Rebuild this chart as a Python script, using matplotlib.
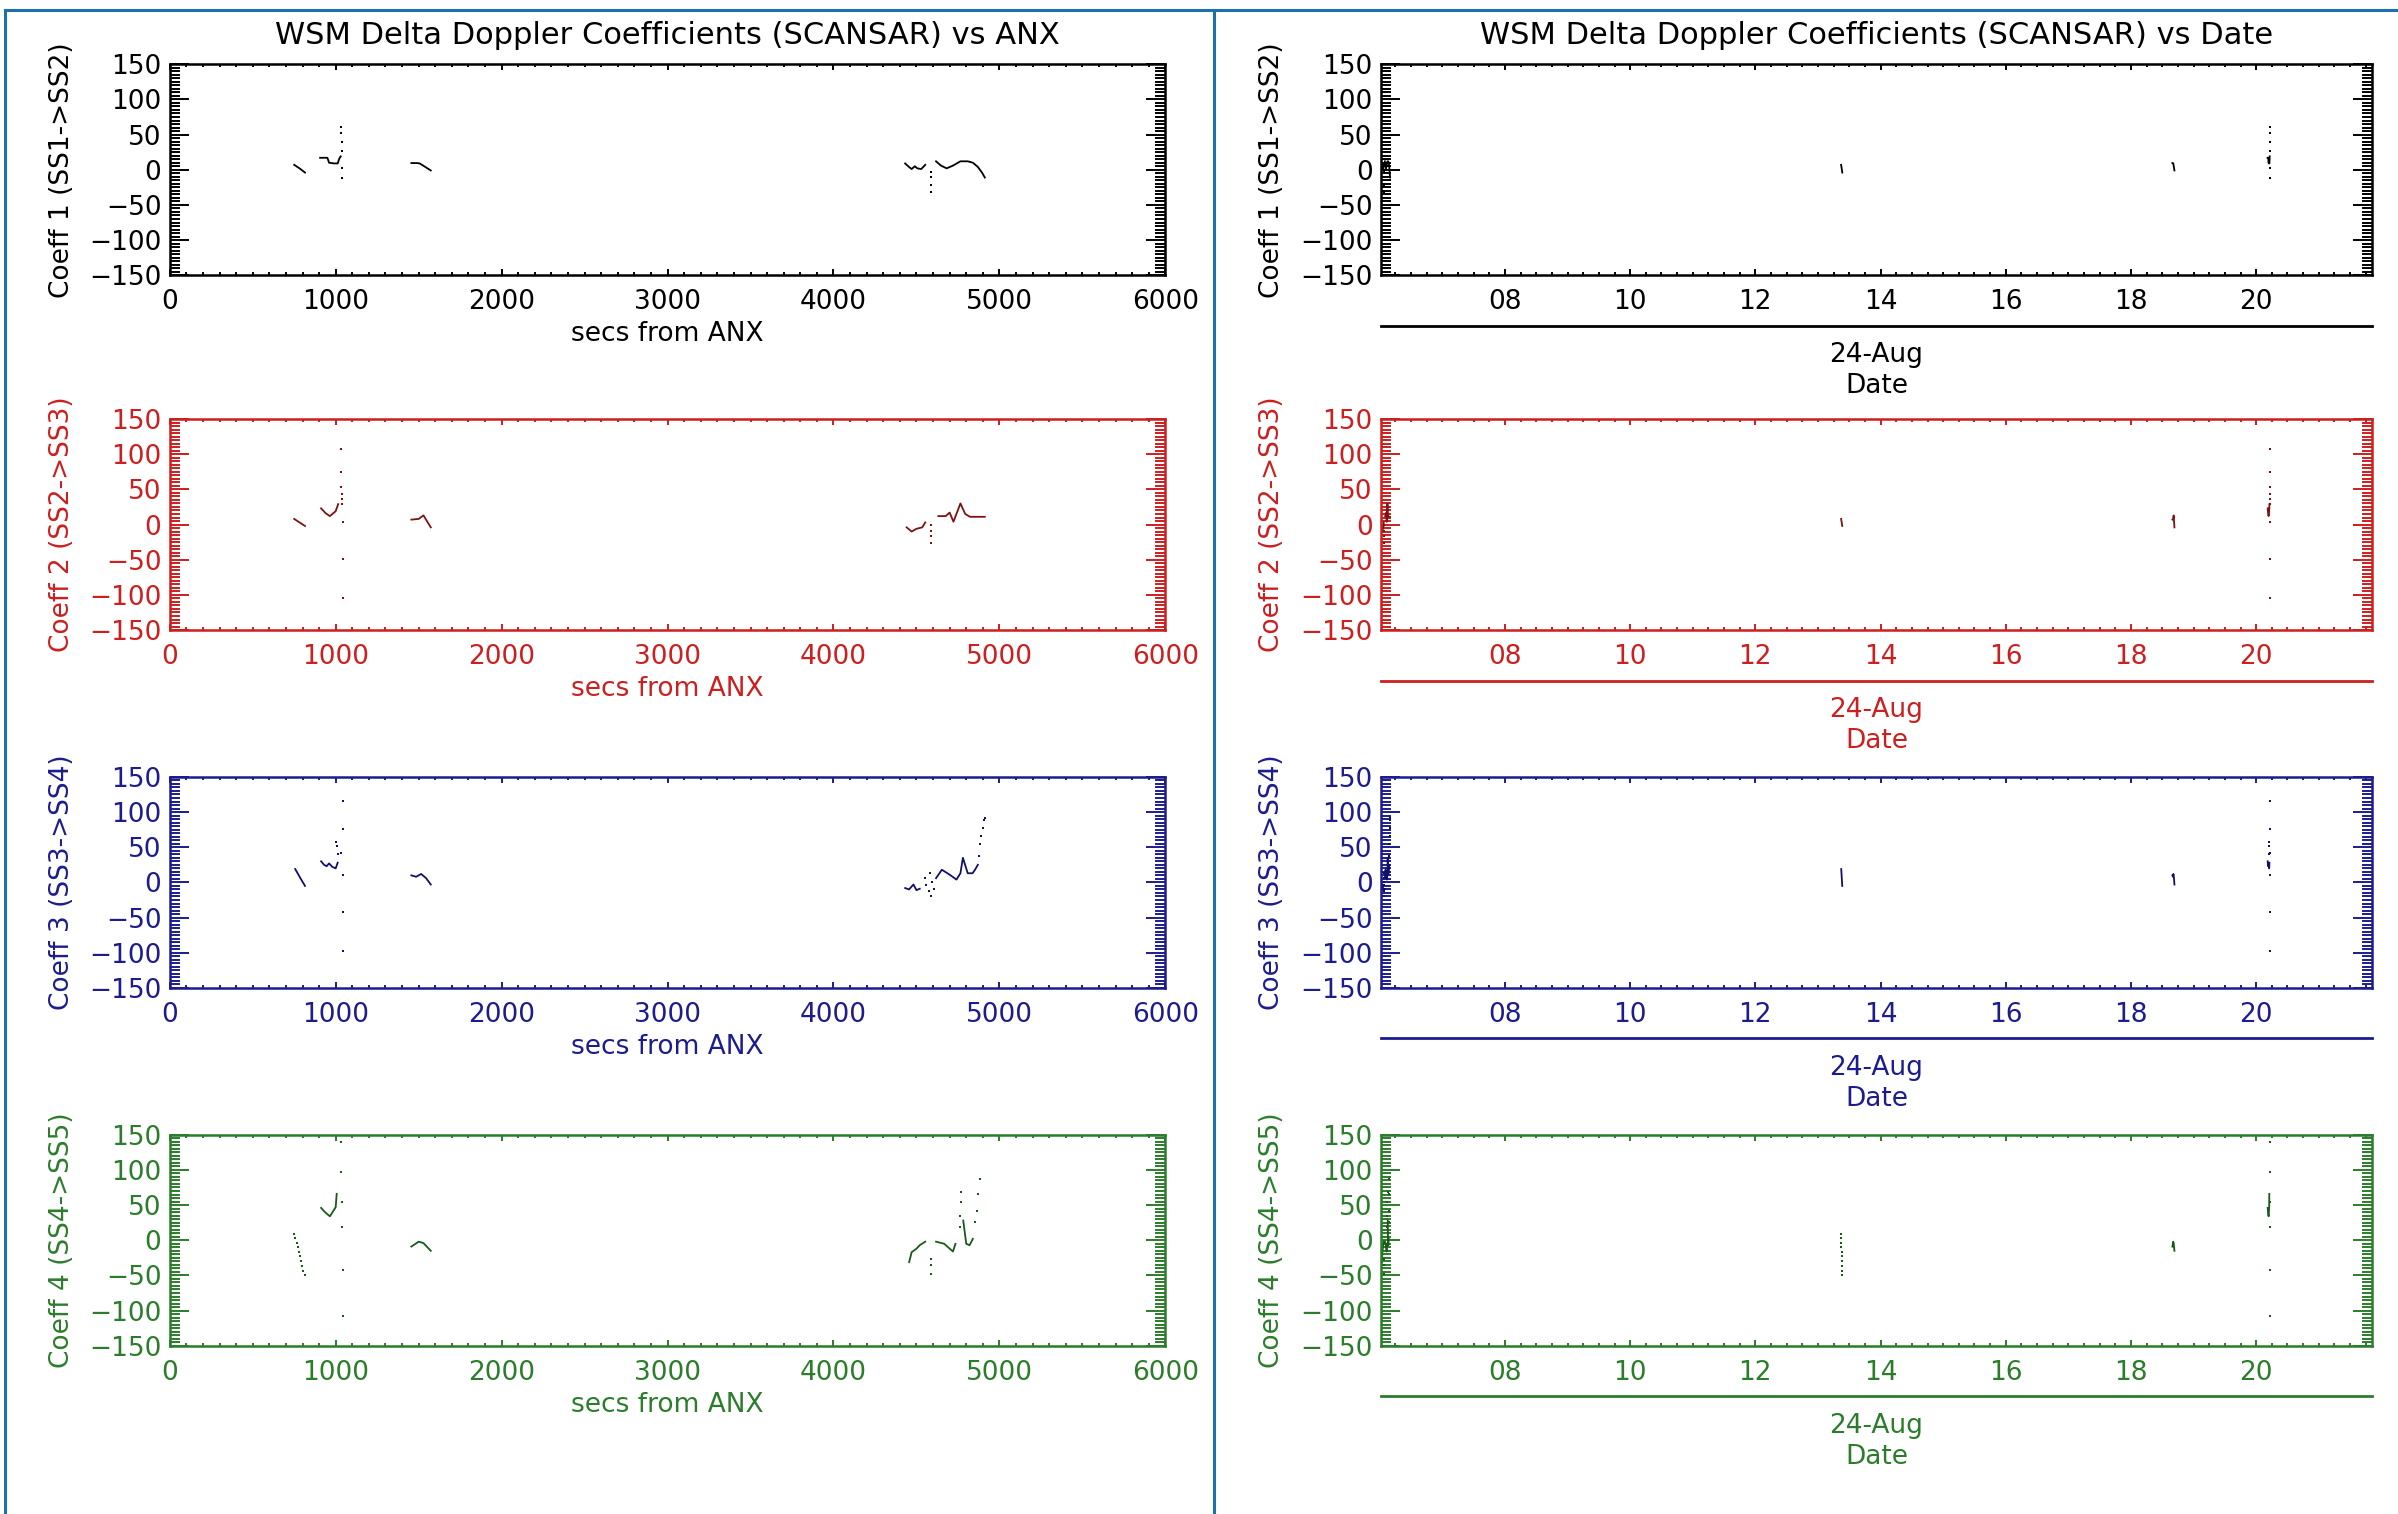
import numpy as np
import matplotlib.pyplot as plt
from matplotlib.lines import Line2D
from matplotlib.ticker import MultipleLocator, FixedLocator, FixedFormatter

plt.rcParams['font.family'] = ['DejaVu Sans']

nan = np.nan

# passes: first secs-from-ANX value of each pass and its time of day (hours, 24-Aug)
pass_anx_start = [750, 900, 1450, 4430]
pass_hours = [13.37, 20.18, 18.66, 6.03]

# Coeff 1 (SS1->SS2): connected samples (nan = break) and isolated samples
c1_anx = [750, 782, 815, nan,
          906, 950, 960, 990, 1012, 1022, 1030, nan,
          1456, 1490, 1506, 1540, 1573, nan,
          4432, 4455, 4471, 4490, 4505, 4529, 4553, nan,
          4618, 4647, 4682, 4721, 4765, 4809, 4840, 4870, 4895, 4912]
c1_val = [7, 2, -4, nan,
          17, 17, 10, 9, 9, 16, 19, nan,
          9.5, 9.5, 9, 4, -1, nan,
          9, 4, 1, 5, 2, 1, 7, nan,
          12, 6, 2, 6, 12, 12, 10, 4, -4, -11]
c1_dot_anx = [1035, 1035, 1036, 1037, 1038, 1040, 4586, 4588, 4590, 4590]
c1_dot_val = [61, 52, 40, 26, 2, -12, -3, -10, -22, -31]

# Coeff 2 (SS2->SS3)
c2_anx = [750, 782, 815, nan,
          912, 940, 965, 1000, 1015, nan,
          1456, 1500, 1529, 1573, nan,
          4441, 4471, 4500, 4535, 4553, nan,
          4632, 4676, 4700, 4723, 4744, 4765, 4794, 4823, 4912]
c2_val = [8, 3, -2, nan,
          23, 16, 12, 19, 29, nan,
          7, 8, 13, -4, nan,
          -4, -10, -6, -4, 3, nan,
          12, 12, 17, 4, 17, 30, 15, 11, 11]
c2_dot_anx = [1030, 1032, 1034, 1036, 1038, 1040, 1042, 1043, 1044,
              4586, 4588, 4590, 4590]
c2_dot_val = [108, 74, 53, 43, 36, 29, 4, -49, -104,
              0, -9, -16, -26]

# Coeff 3 (SS3->SS4)
c3_anx = [756, 785, 815, nan,
          912, 930, 945, 960, 980, 1000, 1012, nan,
          1456, 1485, 1515, 1545, 1573, nan,
          4432, 4455, 4482, 4500, 4520, nan,
          4618, 4653, 4700, 4741, 4765, 4780, 4809, 4838, 4853, 4870]
c3_val = [19, 7, -5, nan,
          30, 25, 23, 27, 22, 20, 28, nan,
          10, 8, 12, 6, -3, nan,
          -8, -10, -3, -11, -9, nan,
          6, 18, 11, 4, 13, 35, 13, 13, 18, 25]
c3_dot_anx = [1000, 1006, 1015, 1029, 1044, 1044, 1044, 1044, 1044,
              4553, 4560, 4575, 4580, 4588, 4595, 4603,
              4876, 4882, 4890, 4900, 4906, 4912]
c3_dot_val = [57, 52, 40, 42, 116, 76, 10, -42, -97,
              6, -4, -12, 14, -20, 0, -9,
              37, 54, 66, 78, 89, 92]

# Coeff 4 (SS4->SS5)
c4_anx = [912, 935, 965, 1000, 1006, nan,
          1456, 1500, 1529, 1573, nan,
          4456, 4471, 4500, 4520, 4553, nan,
          4618, 4667, 4720, 4735, nan,
          4782, 4800, 4820, 4840]
c4_val = [46, 40, 34, 47, 66, nan,
          -9, -2, -4, -15, nan,
          -31, -17, -12, -7, -2, nan,
          -2, -5, -16, -5, nan,
          28, -5, -7, 2]
c4_dot_anx = [750, 757, 764, 771, 778, 785, 792, 799, 806, 813,
              1030, 1033, 1036, 1039, 1042, 1044,
              4586, 4588, 4590,
              4763, 4765, 4767, 4770,
              4855, 4865, 4872, 4882]
c4_dot_val = [9, 3, -4, -10, -16, -23, -30, -36, -43, -50,
              139, 97, 54, 19, -42, -108,
              -26, -35, -48,
              19, 35, 54, 68,
              26, 42, 66, 87]

coeff_labels = ['Coeff 1 (SS1->SS2)', 'Coeff 2 (SS2->SS3)',
                'Coeff 3 (SS3->SS4)', 'Coeff 4 (SS4->SS5)']
axis_colors = ['#000000', '#cc1f1f', '#1c1c8e', '#2b7d2b']
data_colors = ['#000000', '#7e1212', '#10106a', '#185a18']
date_ticks = [8, 10, 12, 14, 16, 18, 20]
date_ticklabels = ['08', '10', '12', '14', '16', '18', '20']

series = [(c1_anx, c1_val, c1_dot_anx, c1_dot_val),
          (c2_anx, c2_val, c2_dot_anx, c2_dot_val),
          (c3_anx, c3_val, c3_dot_anx, c3_dot_val),
          (c4_anx, c4_val, c4_dot_anx, c4_dot_val)]


def anx_to_hours(anx):
    anx = np.asarray(anx, dtype=float)
    hours = np.full(anx.shape, np.nan)
    for start, hr in zip(pass_anx_start, pass_hours):
        m = (anx >= start) & (anx < start + 600)
        hours[m] = hr + (anx[m] - start) / 3600.0
    return hours


def style_axes(ax, color):
    for s in ax.spines.values():
        s.set_color(color)
        s.set_linewidth(1.8)
    ax.set_ylim(-150, 150)
    ax.yaxis.set_major_locator(MultipleLocator(50))
    ax.yaxis.set_minor_locator(MultipleLocator(5))
    ax.tick_params(axis='both', which='both', direction='in', colors=color,
                   top=True, right=True, labelsize=19, width=1.4)
    ax.tick_params(axis='y', which='major', length=14, pad=6)
    ax.tick_params(axis='y', which='minor', length=7)
    ax.tick_params(axis='x', which='major', length=4.5, pad=10)
    ax.tick_params(axis='x', which='minor', length=2.2)


fig = plt.figure(figsize=(23.98, 15.14), dpi=100)

W, H = 1568.0, 990.0
row_tops = [42, 274, 508, 742]
ax_h = 138

for i in range(4):
    anx, val, dot_anx, dot_val = series[i]
    ac, dc = axis_colors[i], data_colors[i]
    bottom = 1 - (row_tops[i] + ax_h) / H

    # left: vs secs from ANX
    axl = fig.add_axes([111 / W, bottom, 651 / W, ax_h / H])
    style_axes(axl, ac)
    axl.plot(anx, val, color=dc, lw=1.3)
    axl.plot(dot_anx, dot_val, ls='none', marker='s', ms=1.8, color=dc, mew=0)
    axl.set_xlim(0, 6000)
    axl.xaxis.set_major_locator(MultipleLocator(1000))
    axl.xaxis.set_minor_locator(MultipleLocator(100))
    axl.set_xlabel('secs from ANX', color=ac, fontsize=19, va='center')
    axl.xaxis.set_label_coords(0.5, -0.28)
    axl.set_ylabel(coeff_labels[i], color=ac, fontsize=19, va='center')
    axl.yaxis.set_label_coords(-0.108, 0.5)

    # right: vs date
    axr = fig.add_axes([903 / W, bottom, 648 / W, ax_h / H])
    style_axes(axr, ac)
    axr.plot(anx_to_hours(anx), val, color=dc, lw=1.3)
    axr.plot(anx_to_hours(dot_anx), dot_val, ls='none', marker='s', ms=1.8,
             color=dc, mew=0)
    axr.set_xlim(6.02, 21.85)
    axr.xaxis.set_major_locator(FixedLocator(date_ticks))
    axr.xaxis.set_major_formatter(FixedFormatter(date_ticklabels))
    axr.xaxis.set_minor_locator(MultipleLocator(0.25))
    axr.set_ylabel(coeff_labels[i], color=ac, fontsize=19, va='center')
    axr.yaxis.set_label_coords(-0.11, 0.5)
    axr.add_line(Line2D([0, 1], [-0.239, -0.239], transform=axr.transAxes,
                        color=ac, lw=2.0, clip_on=False))
    axr.text(0.5, -0.38, '24-Aug', transform=axr.transAxes, ha='center',
             va='center', fontsize=19, color=ac)
    axr.text(0.5, -0.525, 'Date', transform=axr.transAxes, ha='center',
             va='center', fontsize=19, color=ac)

    if i == 0:
        axl.text(0.5, 1.135, 'WSM Delta Doppler Coefficients (SCANSAR) vs ANX',
                 transform=axl.transAxes, ha='center', va='center', fontsize=22)
        axr.text(0.5, 1.135, 'WSM Delta Doppler Coefficients (SCANSAR) vs Date',
                 transform=axr.transAxes, ha='center', va='center', fontsize=22)

# blue page frame
frame = '#1e6fae'
top_y = 1 - 10 / 1514.0
fig.add_artist(Line2D([5 / 2398.0, 1], [top_y, top_y], color=frame, lw=2.2))
fig.add_artist(Line2D([5 / 2398.0, 5 / 2398.0], [0, top_y], color=frame, lw=2.2))
fig.add_artist(Line2D([1214 / 2398.0, 1214 / 2398.0], [0, top_y], color=frame, lw=2.2))

fig.savefig('out.png', dpi=100)
